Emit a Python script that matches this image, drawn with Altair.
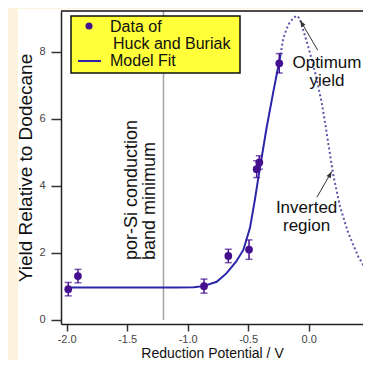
import altair as alt
import pandas as pd

# ---------------- data ----------------
data_x = [-1.987, -1.907, -0.865, -0.664, -0.493, -0.430, -0.408, -0.243]
data_y = [0.92, 1.31, 1.01, 1.91, 2.10, 4.50, 4.70, 7.66]
data_err = [0.20, 0.20, 0.21, 0.20, 0.29, 0.25, 0.20, 0.29]

fit_x = [-1.99, -1.50, -1.10, -0.95, -0.87, -0.76, -0.68, -0.60, -0.54,
         -0.485, -0.444, -0.416, -0.347, -0.290, -0.243, -0.232]
fit_y = [0.97, 0.97, 0.97, 0.98, 1.01, 1.14, 1.39, 1.74, 2.09,
         2.75, 3.60, 4.25, 5.75, 6.85, 7.72, 7.92]

ext_x = [-0.232, -0.21, -0.169, -0.13, -0.099, -0.075, -0.058, 0.0, 0.052,
         0.107, 0.135, 0.162, 0.203, 0.259, 0.328, 0.41, 0.493, 0.515]
ext_y = [7.92, 8.41, 8.81, 9.0, 9.08, 9.0, 8.81, 8.11, 7.41,
         6.5, 5.9, 5.27, 4.33, 3.38, 2.59, 1.89, 1.39, 1.27]

band_min_x = -1.2
x_ticks = [-2.0, -1.5, -1.0, -0.5, 0.0, 0.5]
y_ticks = [0, 2, 4, 6, 8]

x_title = "Reduction Potential / V"
y_title = "Yield Relative to Dodecane"
legend_labels = ["Data of", "Huck and Buriak", "Model Fit"]
band_label = ["por-Si conduction", "band minimum"]
optimum_label = ["Optimum", "yield"]
inverted_label = ["Inverted", "region"]

# annotation anchors (data coordinates)
band_pos = (-1.419, 1.79)
optimum_pos = (0.151, 7.52)
inverted_pos = (-0.017, 3.19)
arrows = pd.DataFrame({
    "x": [0.075, 0.068], "y": [8.05, 3.66],
    "x2": [-0.070, 0.190], "y2": [8.94, 4.43],
    "ang": [330.0, 27.8],
})

# ---------------- layout ----------------
W, H = 302, 313
FONT = "Liberation Sans"
xs = alt.Scale(domain=[-2.047, 0.449], nice=False, zero=False)
ys = alt.Scale(domain=[-0.12, 9.22], nice=False, zero=False)

PT = "#45108f"
FIT = "#2b25aa"
DOT = "#5a55aa"

pts = pd.DataFrame({"x": data_x, "y": data_y,
                    "lo": [a - b for a, b in zip(data_y, data_err)],
                    "hi": [a + b for a, b in zip(data_y, data_err)]})
fit = pd.DataFrame({"x": fit_x, "y": fit_y})
ext = pd.DataFrame({"x": ext_x, "y": ext_y})
one = pd.DataFrame({"k": [0]})

xaxis = alt.Axis(values=x_ticks, format=".1f",
                 labelExpr="replace(datum.label, '\u2212', '-')",
                 title=x_title, grid=False, tickSize=7, labelPadding=2,
                 labelFlush=False, titlePadding=2, titleFontSize=14, zindex=2)
yaxis = alt.Axis(values=y_ticks, format="d", title=y_title, grid=False,
                 tickSize=10, labelPadding=6, titlePadding=3, zindex=2)


def X(f="x"):
    return alt.X(f"{f}:Q", scale=xs, axis=xaxis, title=x_title)


def Y(f="y"):
    return alt.Y(f"{f}:Q", scale=ys, axis=yaxis, title=y_title)


white = alt.Chart(one).mark_rect(color="white").encode(
    x=alt.value(-43), x2=alt.value(W + 20),
    y=alt.value(-2), y2=alt.value(H + 60))

top_border = alt.Chart(one).mark_rule(color="#111", strokeWidth=1.5).encode(
    x=alt.value(0), x2=alt.value(W), y=alt.value(0))

band = alt.Chart(pd.DataFrame({"x": [band_min_x], "y": [0.0], "y2": [9.22]})).mark_rule(
    color="#a3a3a3", strokeWidth=1.5).encode(x=X(), y=Y(), y2="y2:Q")

fit_line = alt.Chart(fit).mark_line(color=FIT, strokeWidth=2, clip=True).encode(
    x=X(), y=Y())

ext_line = alt.Chart(ext).mark_line(color=DOT, strokeWidth=2, strokeDash=[2, 2.5],
                                    clip=True).encode(x=X(), y=Y())

err = alt.Chart(pts).mark_rule(color=PT, strokeWidth=1.5).encode(
    x=X(), y=Y("lo"), y2="hi:Q")
cap_lo = alt.Chart(pts).mark_tick(color=PT, orient="horizontal", size=7,
                                  thickness=1.5).encode(x=X(), y=Y("lo"))
cap_hi = alt.Chart(pts).mark_tick(color=PT, orient="horizontal", size=7,
                                  thickness=1.5).encode(x=X(), y=Y("hi"))
points = alt.Chart(pts).mark_circle(color=PT, size=60, opacity=1).encode(
    x=X(), y=Y())


def label(lines, pos, size=18, angle=0, align="center", lh=18):
    df = pd.DataFrame({"x": [pos[0]], "y": [pos[1]]})
    return alt.Chart(df).mark_text(
        text=lines, font=FONT, fontSize=size, angle=angle, align=align,
        baseline="alphabetic", lineHeight=lh, color="#111").encode(x=X(), y=Y())


band_txt = label(band_label, band_pos, angle=270, align="left", lh=18)
opt_txt = label(optimum_label, optimum_pos, size=17, lh=18)
inv_txt = label(inverted_label, inverted_pos, size=17, lh=18)

shafts = alt.Chart(arrows).mark_rule(color="#333", strokeWidth=1).encode(
    x=X(), y=Y(), x2="x2:Q", y2="y2:Q")
heads = alt.Chart(arrows).mark_point(
    shape="M0,0L-0.6,1.6L0.6,1.6Z", filled=True, color="#333", size=64,
    opacity=1).encode(x=X("x2"), y=Y("y2"), angle=alt.Angle("ang:Q", scale=None))

# legend box (decoration, pixel positions inside the plot area)
leg_box = alt.Chart(one).mark_rect(fill="#ffff3a", stroke="#111", strokeWidth=1.5).encode(
    x=alt.value(10), x2=alt.value(179), y=alt.value(5), y2=alt.value(62))
leg_dot = alt.Chart(one).mark_circle(color=PT, size=50, opacity=1).encode(
    x=alt.value(28), y=alt.value(15))
leg_line = alt.Chart(one).mark_rule(color=FIT, strokeWidth=2).encode(
    x=alt.value(17), x2=alt.value(40), y=alt.value(50))
leg_t1 = alt.Chart(one).mark_text(text=legend_labels[0], font=FONT, fontSize=16,
                                  align="left", baseline="alphabetic", color="#111").encode(
    x=alt.value(49), y=alt.value(21))
leg_t2 = alt.Chart(one).mark_text(text=legend_labels[1], font=FONT, fontSize=16,
                                  align="left", baseline="alphabetic", color="#111").encode(
    x=alt.value(52), y=alt.value(38))
leg_t3 = alt.Chart(one).mark_text(text=legend_labels[2], font=FONT, fontSize=16,
                                  align="left", baseline="alphabetic", color="#111").encode(
    x=alt.value(49), y=alt.value(55))

chart = alt.layer(
    white, band, fit_line, ext_line, err, cap_lo, cap_hi, points,
    band_txt, opt_txt, inv_txt, shafts, heads,
    leg_box, leg_dot, leg_line, leg_t1, leg_t2, leg_t3, top_border,
).properties(
    width=W, height=H,
    autosize=alt.AutoSizeParams(type="none"),
    padding={"left": 53, "top": 3, "right": 0, "bottom": 36},
    background="#fdf3dc",
).configure_view(stroke=None).configure_axis(
    domainColor="#222", domainWidth=1.5, tickColor="#333", tickWidth=1.5,
    labelColor="#444", labelFont=FONT, labelFontSize=11,
    titleFont=FONT, titleFontSize=19, titleFontWeight="normal", titleColor="#111",
)

chart.save("out.html", embed_options={"renderer": "svg", "actions": False})
